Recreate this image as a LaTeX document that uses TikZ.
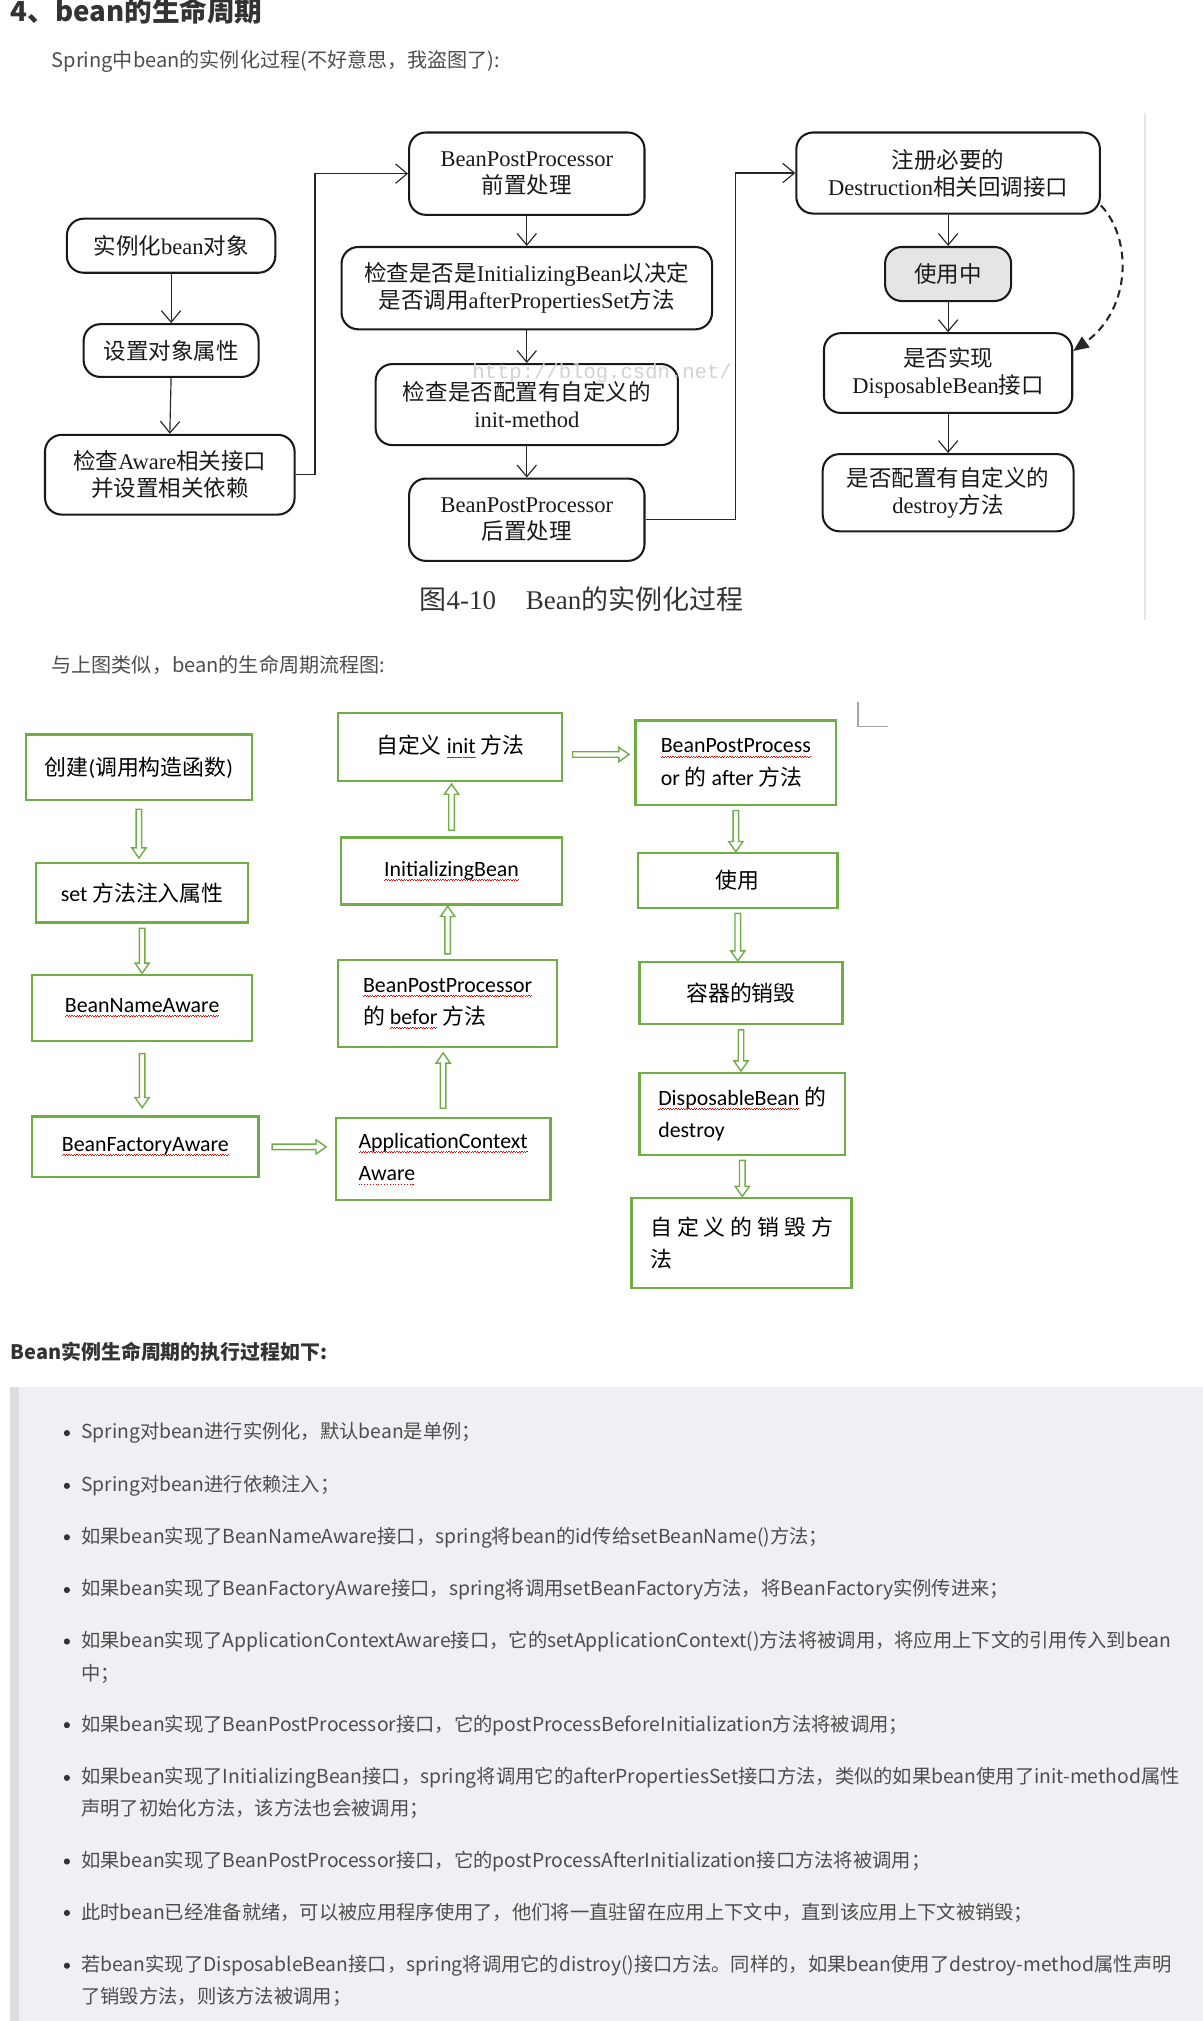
\documentclass[tikz,border=0pt]{standalone}
\usepackage{fontspec}
\setmainfont{Liberation Serif}
\newfontfamily\cjk{Noto Sans CJK SC}
\newfontfamily\cali{Carlito}
\newfontfamily\mono{Liberation Mono}
\usetikzlibrary{arrows.meta,shapes.arrows}

\definecolor{gr}{HTML}{70AD47}
\definecolor{ink}{HTML}{333333}
\definecolor{body}{HTML}{4D4D4D}
\definecolor{quote}{HTML}{EFF0F4}
\definecolor{quotebar}{HTML}{DDDEE4}

\newcommand\zh[1]{{\cjk #1}}
% spell-check marks of the second chart
\newsavebox\wavebox
\newcommand\rwave[1]{\leavevmode\sbox\wavebox{#1}\rlap{\textcolor{red}{\hbox to\wd\wavebox{\xleaders\hbox{\rule[-3.4pt]{1pt}{.6pt}\rule[-2.7pt]{1pt}{.6pt}}\hfill}}}\usebox\wavebox}
\newcommand\rdots[1]{\leavevmode\sbox\wavebox{#1}\rlap{\textcolor{red}{\hbox to\wd\wavebox{\xleaders\hbox{\rule[-3.2pt]{.8pt}{.8pt}\kern1.4pt}\hfill}}}\usebox\wavebox}
\newcommand\garrow[4]{\path (#2) -- node[garr=#4, sloped, allow upside down] (#1) {} (#3);}

\begin{document}
\begin{tikzpicture}[x=1pt,y=-1pt,
    rbox/.style={draw=black!90, line width=1.6pt, rounded corners=13pt, align=center,
      inner sep=0pt, text=black!90, font=\fontsize{17.5}{21}\selectfont},
    farr/.style={draw=black!85, line width=.9pt,
      -{Straight Barb[length=9pt,width=15pt,line width=.9pt]}},
    gbox/.style={draw=gr, line width=1.8pt, inner sep=0pt, align=left,
      font=\cali\fontsize{17}{25}\selectfont},
    garr/.style={single arrow, draw=gr, fill=white, line width=1.1pt, inner sep=0pt,
      inner ysep=1.6pt, single arrow head extend=3.4pt, single arrow tip angle=70,
      minimum width=0pt, minimum height=#1},
    para/.style={anchor=west, inner sep=0pt, text=body, font=\cjk\fontsize{15}{18}\selectfont},
    hd/.style={anchor=west, inner sep=0pt, text=ink, font=\cjk\bfseries\fontsize{15.5}{18}\selectfont}]
  \useasboundingbox (0,0) rectangle (935,1571);

  % headings
  \node[hd, font=\cjk\bfseries\fontsize{21.5}{24}\selectfont] (title) at (8,8) {4、bean的生命周期};
  \node[para, font=\cjk\fontsize{15.6}{18}\selectfont] (intro1) at (40,48) {Spring中bean的实例化过程(不好意思，我盗图了):};

  % first chart (scanned figure)
  \draw[black!10, line width=2pt] (890,88) -- (890,482);
  \node[rbox, minimum width=162pt, minimum height=42pt] (inst) at (133,191) {\zh{实例化}bean\zh{对象}};
  \node[rbox, minimum width=136pt, minimum height=41pt] (setp) at (133,272.5) {\zh{设置对象属性}};
  \node[rbox, minimum width=194pt, minimum height=62pt] (aware) at (132,369) {\zh{检查}Aware\zh{相关接口}\\\zh{并设置相关依赖}};
  \node[rbox, minimum width=183pt, minimum height=64pt] (pre) at (409.5,135) {BeanPostProcessor\\\zh{前置处理}};
  \node[rbox, minimum width=288pt, minimum height=64pt] (initb) at (409.5,224) {\zh{检查是否是}InitializingBean\zh{以决定}\\\zh{是否调用}afterPropertiesSet\zh{方法}};
  \node[rbox, minimum width=235pt, minimum height=63pt] (initm) at (409.5,314.5) {\zh{检查是否配置有自定义的}\\init-method};
  \node[rbox, minimum width=183pt, minimum height=64pt] (post) at (409.5,404) {BeanPostProcessor\\\zh{后置处理}};
  \node[rbox, minimum width=236pt, minimum height=63pt] (reg) at (737,134.5) {\zh{注册必要的}\\Destruction\zh{相关回调接口}};
  \node[rbox, fill=black!10, minimum width=98pt, minimum height=42pt] (use) at (737,213) {\zh{使用中}};
  \node[rbox, minimum width=193pt, minimum height=62pt] (disp) at (737,290) {\zh{是否实现}\\DisposableBean\zh{接口}};
  \node[rbox, minimum width=195pt, minimum height=60pt] (dest) at (737,383) {\zh{是否配置有自定义的}\\destroy\zh{方法}};
  \node[inner sep=0pt, text=black!18, font=\mono\fontsize{16}{16}\selectfont] (wm) at (468,290) {http://blog.csdn.net/};
  \node[inner sep=0pt, text=ink, font=\fontsize{21}{24}\selectfont] (cap) at (452,466) {\zh{图}4-10\hspace{1.1em}Bean\zh{的实例化过程}};

  \draw[farr] (inst.south) -- (setp.north);
  \draw[farr] (setp.south) -- (aware.north);
  \draw[farr] (aware.east) -- ++(15,0) |- (pre.west);
  \draw[farr] (pre.south) -- (initb.north);
  \draw[farr] (initb.south) -- (initm.north);
  \draw[farr] (initm.south) -- (post.north);
  \draw[farr] (post.east) -- ++(70,0) |- (reg.west);
  \draw[farr] (reg.south) -- (use.north);
  \draw[farr] (use.south) -- (disp.north);
  \draw[farr] (disp.south) -- (dest.north);
  \draw[black!85, line width=1.6pt, dash pattern=on 6pt off 4pt, -{Triangle[length=12pt,width=10pt]}]
    (reg.-12) .. controls (880,185) and (880,240) .. (disp.10);

  % second chart
  \node[para, font=\cjk\fontsize{15.6}{18}\selectfont] (intro2) at (40,517) {与上图类似，bean的生命周期流程图:};
  \draw[black!35, line width=1pt] (667,546) -- (667,565) -- (690,565);

  \node[gbox, minimum width=176pt, minimum height=51pt] (cre) at (108,596.5) {\zh{创建}(\zh{调用构造函数})};
  \node[gbox, minimum width=165pt, minimum height=46pt] (setm) at (110.5,694) {set \zh{方法注入属性}};
  \node[gbox, minimum width=171pt, minimum height=51pt] (bna) at (110.5,783.5) {\rwave{BeanNameAware}};
  \node[gbox, minimum width=176pt, minimum height=47pt] (bfa) at (113,891.5) {\rwave{BeanFactoryAware}};
  \node[gbox, minimum width=167pt, minimum height=64pt] (aca) at (344.5,901) {\rwave{ApplicationContext}\\\rdots{Aware}};
  \node[gbox, minimum width=170pt, minimum height=68pt] (bpp) at (348,780) {\rwave{BeanPostProcessor}\\\zh{的} \rwave{befor} \zh{方法}};
  \node[gbox, minimum width=172pt, minimum height=52pt] (inb) at (351,677) {\rwave{InitializingBean}};
  \node[gbox, minimum width=174pt, minimum height=53pt] (cinit) at (350,580.5) {\zh{自定义} \rwave{init} \zh{方法}};
  \node[gbox, minimum width=156pt, minimum height=66pt] (aft) at (572,593) {\rwave{BeanPostProcess}\\or \zh{的} after \zh{方法}};
  \node[gbox, minimum width=155pt, minimum height=43pt] (usg) at (573.5,684.5) {\zh{使用}};
  \node[gbox, minimum width=158pt, minimum height=48pt] (cdes) at (576,772) {\zh{容器的销毁}};
  \node[gbox, minimum width=160pt, minimum height=64pt] (dsb) at (577,866) {\rwave{DisposableBean} \zh{的}\\destroy};
  \node[gbox, minimum width=171pt, minimum height=70pt] (cdm) at (576.5,966) {\zh{自 定 义 的 销 毁 方}\\\zh{法}};

  \garrow{a1}{cre.south}{cre.south |- setm.north}{38pt}
  \garrow{a2}{setm.south}{setm.south |- bna.north}{35pt}
  \garrow{a3}{bna.south}{bna.south |- bfa.north}{42pt}
  \garrow{a4}{bfa.east}{bfa.east -| aca.west}{42pt}
  \garrow{a5}{aca.north}{aca.north |- bpp.south}{43pt}
  \garrow{a6}{bpp.north}{bpp.north |- inb.south}{37pt}
  \garrow{a7}{inb.north}{inb.north |- cinit.south}{36pt}
  \garrow{a8}{[yshift=-6pt]cinit.east}{[yshift=-6pt]cinit.east -| aft.west}{44pt}
  \garrow{a9}{aft.south}{aft.south |- usg.north}{32pt}
  \garrow{a10}{usg.south}{usg.south |- cdes.north}{37pt}
  \garrow{a11}{cdes.south}{cdes.south |- dsb.north}{32pt}
  \garrow{a12}{dsb.south}{dsb.south |- cdm.north}{28pt}

  % list of steps
  \node[hd] (steps) at (8,1051) {Bean实例生命周期的执行过程如下:};
  \fill[quote] (8,1078) rectangle (935,1571);
  \fill[quotebar] (8,1078) rectangle (15,1571);
  \foreach \yy/\txt in {
      1114/{Spring对bean进行实例化，默认bean是单例；},
      1155/{Spring对bean进行依赖注入；},
      1195/{如果bean实现了BeanNameAware接口，spring将bean的id传给setBeanName()方法；},
      1236/{如果bean实现了BeanFactoryAware接口，spring将调用setBeanFactory方法，将BeanFactory实例传进来；},
      1276/{如果bean实现了ApplicationContextAware接口，它的setApplicationContext()方法将被调用，将应用上下文的引用传入到bean},
      1341/{如果bean实现了BeanPostProcessor接口，它的postProcessBeforeInitialization方法将被调用；},
      1382/{如果bean实现了InitializingBean接口，spring将调用它的afterPropertiesSet接口方法，类似的如果bean使用了init-method属性},
      1447/{如果bean实现了BeanPostProcessor接口，它的postProcessAfterInitialization接口方法将被调用；},
      1487/{此时bean已经准备就绪，可以被应用程序使用了，他们将一直驻留在应用上下文中，直到该应用上下文被销毁；},
      1528/{若bean实现了DisposableBean接口，spring将调用它的distroy()接口方法。同样的，如果bean使用了destroy-method属性声明}}
    {\fill[ink] (52,\yy) circle (2.4pt);
     \node[para] (item\yy) at (63,\yy) {\txt};}
  \foreach \yy/\txt in {1301/{中；}, 1406/{声明了初始化方法，该方法也会被调用；}, 1552/{了销毁方法，则该方法被调用；}}
    \node[para] (cont\yy) at (63,\yy) {\txt};
\end{tikzpicture}
\end{document}
